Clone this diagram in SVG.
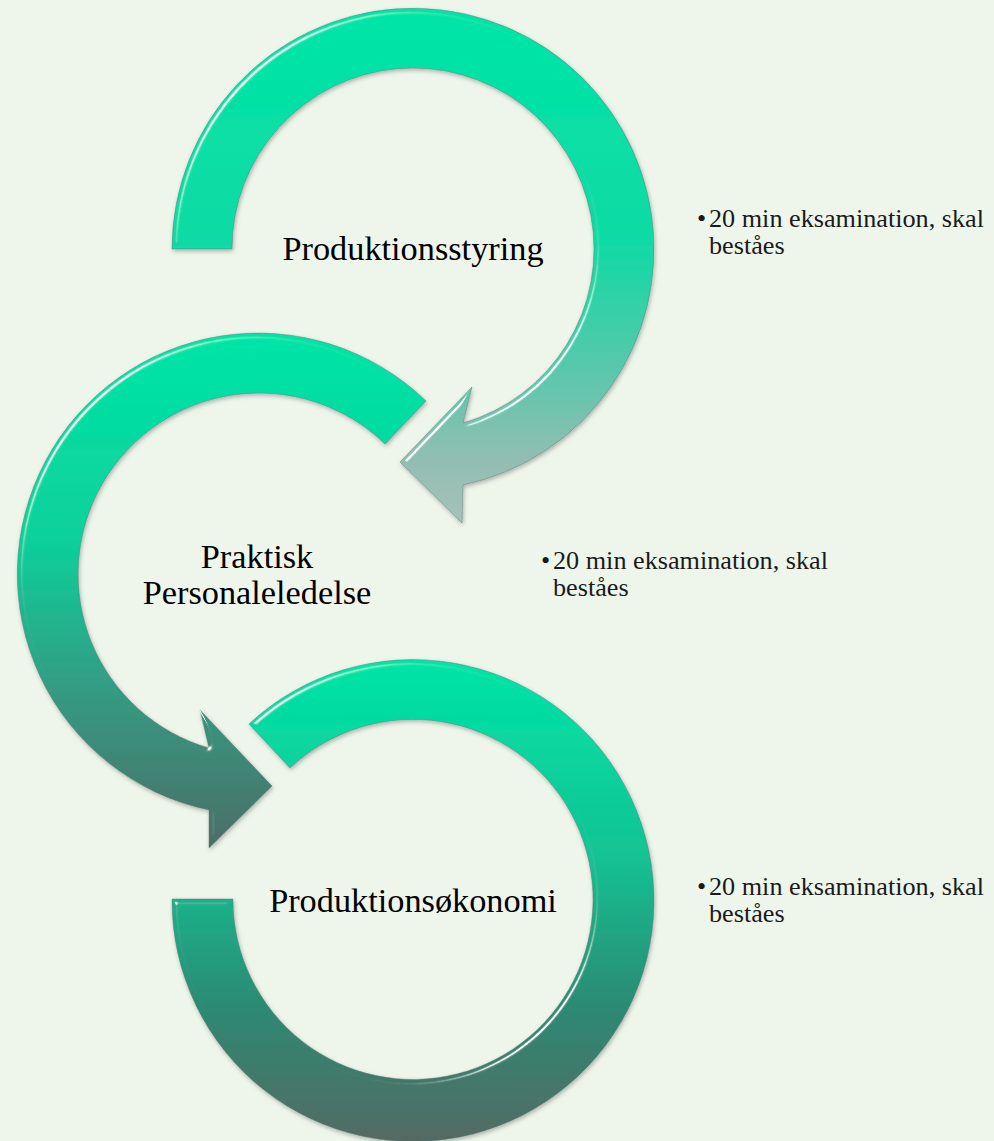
<svg xmlns="http://www.w3.org/2000/svg" width="994" height="1141" viewBox="0 0 994 1141">
  <style>
    .lbl { font-family: "Liberation Serif", "Times New Roman", serif; font-size: 34.3px; fill: #000; text-anchor: middle; }
    .note { font-family: "Liberation Serif", "Times New Roman", serif; font-size: 26.2px; fill: #1a1a1a; }
    .arc { stroke: #5e7d74; stroke-opacity: 0.6; stroke-width: 0.8; stroke-linejoin: miter; }
  </style>
  <defs>
    <linearGradient id="g1" gradientUnits="userSpaceOnUse" x1="0" y1="8" x2="0" y2="523">
      <stop offset="0" stop-color="#00e5a7"/>
      <stop offset="0.45" stop-color="#0edaa4"/>
      <stop offset="0.7" stop-color="#58c8ab"/>
      <stop offset="0.88" stop-color="#93bdb2"/>
      <stop offset="1" stop-color="#a6c2ba"/>
    </linearGradient>
    <linearGradient id="g2" gradientUnits="userSpaceOnUse" x1="0" y1="332" x2="0" y2="850">
      <stop offset="0" stop-color="#00e5a7"/>
      <stop offset="0.4" stop-color="#0cd09b"/>
      <stop offset="0.7" stop-color="#359a81"/>
      <stop offset="1" stop-color="#4b6d66"/>
    </linearGradient>
    <linearGradient id="g3" gradientUnits="userSpaceOnUse" x1="0" y1="660" x2="0" y2="1141">
      <stop offset="0" stop-color="#00e5a7"/>
      <stop offset="0.4" stop-color="#13c394"/>
      <stop offset="0.72" stop-color="#2c8a72"/>
      <stop offset="1" stop-color="#546a64"/>
    </linearGradient>
    <filter id="bevel" x="-10%" y="-10%" width="120%" height="120%">
      <feGaussianBlur in="SourceAlpha" stdDeviation="2.5" result="blur"/>
      <feSpecularLighting in="blur" surfaceScale="5" specularConstant="1.5" specularExponent="60" lighting-color="#ffffff" result="spec">
        <feDistantLight azimuth="225" elevation="35"/>
      </feSpecularLighting>
      <feComposite in="spec" in2="SourceAlpha" operator="in" result="specIn"/>
      <feComposite in="SourceGraphic" in2="specIn" operator="arithmetic" k1="0" k2="1" k3="1" k4="0" result="lit"/>
      <feGaussianBlur in="SourceAlpha" stdDeviation="2" result="sb"/>
      <feOffset in="sb" dx="1" dy="2" result="so"/>
      <feFlood flood-color="#000000" flood-opacity="0.28"/>
      <feComposite in2="so" operator="in" result="shadow"/>
      <feMerge>
        <feMergeNode in="shadow"/>
        <feMergeNode in="lit"/>
      </feMerge>
    </filter>
  </defs>

  <rect x="0" y="0" width="994" height="1141" fill="#eef6ec"/>

  <g id="connectors"/>

  <g id="node-produktionsstyring">
    <path class="arc" fill="url(#g1)" filter="url(#bevel)"
      d="M172,249 A241,241 0 1 1 463,485 L462,523 L400,462 L472,387 L463,423 A181,181 0 1 0 232,249 Z"/>
    <text class="lbl" x="413" y="260">Produktionsstyring</text>
  </g>

  <g id="node-praktisk-personaleledelse">
    <path class="arc" fill="url(#g2)" filter="url(#bevel)"
      d="M426,401 A241,241 0 1 0 209,810 L209,848 L272,786 L200,710 L209,748 A181,181 0 1 1 385,444 Z"/>
    <text class="lbl" x="257" y="568">Praktisk</text>
    <text class="lbl" x="257" y="604">Personaleledelse</text>
  </g>

  <g id="node-produktionsokonomi">
    <path class="arc" fill="url(#g3)" filter="url(#bevel)"
      d="M172,899 A241,241 0 1 0 249,724 L290,768 A180,180 0 1 1 233,899 Z"/>
    <text class="lbl" x="413" y="912">Produktionsøkonomi</text>
  </g>

  <g id="note-1">
    <text class="note" y="227"><tspan x="697">•</tspan><tspan x="709">20 min eksamination, skal</tspan></text>
    <text class="note" x="709" y="254">beståes</text>
  </g>

  <g id="note-2">
    <text class="note" y="569"><tspan x="541">•</tspan><tspan x="553">20 min eksamination, skal</tspan></text>
    <text class="note" x="553" y="596">beståes</text>
  </g>

  <g id="note-3">
    <text class="note" y="895"><tspan x="697">•</tspan><tspan x="709">20 min eksamination, skal</tspan></text>
    <text class="note" x="709" y="922">beståes</text>
  </g>
</svg>
